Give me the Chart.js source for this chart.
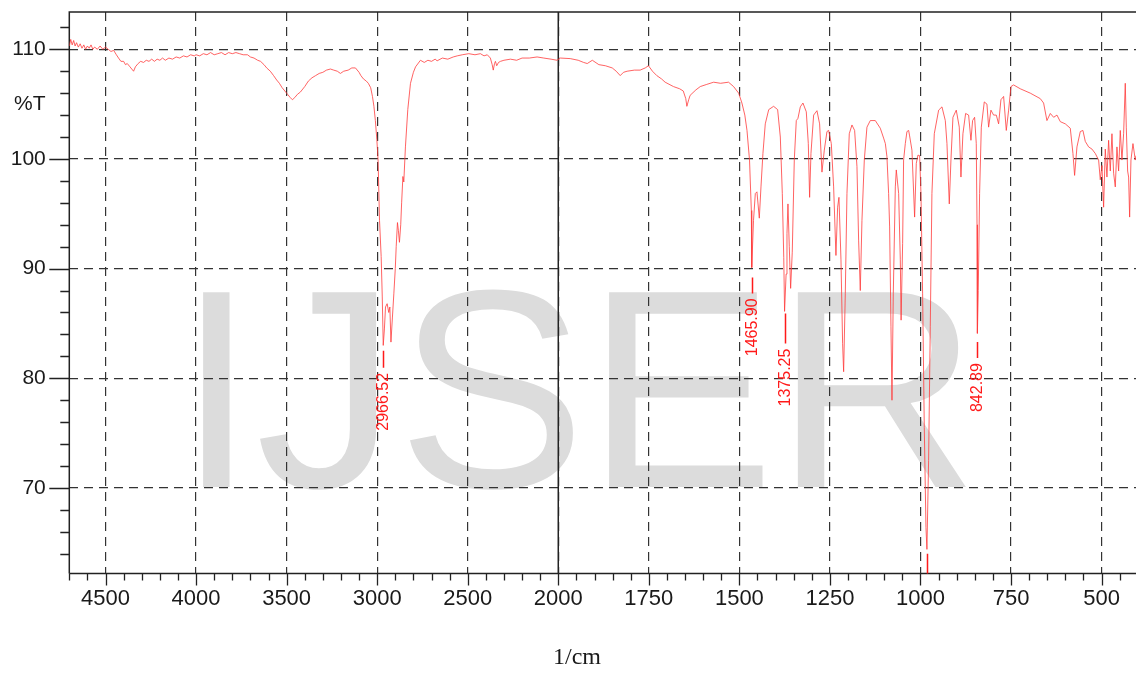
<!DOCTYPE html>
<html lang="en">
<head>
<meta charset="utf-8">
<title>IR spectrum</title>
<script src="https://cdn.jsdelivr.net/npm/chart.js@4.4.1/dist/chart.umd.min.js"></script>
<style>
  html, body { margin: 0; padding: 0; background: #fff; }
  #wrap { width: 1136px; height: 675px; position: relative; }
</style>
</head>
<body>
<div id="wrap"><canvas id="irChart"></canvas></div>
<script>
// spectrum: wavenumber (1/cm) and transmittance (%T)
var wavenumbers = [
  4700, 4692, 4684, 4676, 4668, 4660, 4650, 4640, 4630, 4620,
  4610, 4600, 4590, 4580, 4570, 4560, 4545, 4530, 4515, 4500,
  4485, 4470, 4455, 4440, 4428, 4415, 4400, 4390, 4380, 4365,
  4355, 4345, 4335, 4320, 4306, 4290, 4275, 4260, 4245, 4230,
  4215, 4200, 4185, 4170, 4150, 4130, 4110, 4090, 4070, 4050,
  4030, 4010, 4000, 3980, 3960, 3940, 3920, 3900, 3880, 3860,
  3840, 3820, 3800, 3780, 3760, 3740, 3716, 3700, 3680, 3660,
  3644, 3625, 3610, 3590, 3572, 3555, 3540, 3525, 3510, 3495,
  3480, 3468, 3455, 3440, 3424, 3400, 3380, 3360, 3340, 3320,
  3300, 3280, 3258, 3240, 3220, 3203, 3185, 3160, 3140, 3120,
  3100, 3090, 3076, 3060, 3049, 3036, 3026, 3018, 3010, 3002,
  2995, 2987, 2978, 2972, 2966.5, 2960, 2954, 2945, 2936, 2930,
  2924, 2916, 2908, 2900, 2895, 2888, 2883, 2877, 2870, 2865,
  2858, 2853, 2844, 2831, 2816, 2800, 2788, 2761, 2740, 2720,
  2700, 2680, 2669, 2640, 2610, 2580, 2558, 2530, 2494, 2460,
  2430, 2410, 2392, 2375, 2365, 2359, 2352, 2347, 2340, 2330,
  2319, 2300, 2264, 2230, 2200, 2160, 2117, 2080, 2040, 2007,
  1994, 1967, 1945, 1930, 1920, 1906, 1888, 1870, 1851, 1840,
  1829, 1820, 1810, 1790, 1774, 1760, 1751, 1740, 1728, 1715,
  1705, 1682, 1665, 1655, 1648, 1645, 1640, 1636, 1620, 1608,
  1590, 1571, 1552, 1530, 1516, 1502, 1493, 1485, 1479, 1472,
  1467, 1465.9, 1461, 1456, 1451.5, 1445, 1440.4, 1435, 1428.5, 1419,
  1405.5, 1394.4, 1387, 1381.5, 1377.5, 1375.25, 1371, 1368.6, 1365.9, 1362.2,
  1358.5, 1354, 1348.4, 1342.9, 1338.3, 1331.8, 1324.5, 1315.3, 1309.7, 1306.1,
  1302.4, 1295, 1285.8, 1278.5, 1272, 1265.6, 1258.2, 1253.6, 1246.2, 1239.8,
  1233.4, 1228.8, 1225.1, 1219.5, 1215, 1212.2, 1207.6, 1203, 1196.6, 1189.2,
  1181.8, 1175.4, 1170.8, 1166.2, 1161.6, 1155.1, 1147.8, 1138.6, 1124.8, 1111,
  1101.8, 1097, 1092.6, 1088, 1085.2, 1081.5, 1078.7, 1075.1, 1069.5, 1066.8,
  1060.3, 1055.7, 1053.5, 1049.3, 1046.6, 1041.9, 1037.4, 1032.7, 1030, 1023.6,
  1016.2, 1011.6, 1007, 1002.4, 998.7, 994.1, 989.5, 984.9, 982.2, 977.6,
  973, 968.4, 961.9, 949.9, 940.7, 931.5, 926.9, 920.5, 915.9, 910.4,
  901.2, 892.9, 888.3, 882.8, 875.4, 867.1, 860.7, 856.1, 850.6, 846,
  843.9, 842.89, 840.5, 836.8, 832.1, 823.9, 816.5, 811.9, 805.5, 798.1,
  790.7, 784.3, 777.9, 770.5, 763.1, 756.7, 750.2, 742.9, 724.5, 696.9,
  669.3, 660.1, 650.9, 641.6, 632.4, 623.2, 614, 600.2, 586.4, 579.1,
  574.5, 568, 558.8, 551.5, 545, 535.8, 526.6, 517.4, 508.2, 503.6,
  499, 494.4, 489.8, 485.2, 480.6, 476, 471.4, 466.8, 462.2, 457.6,
  453, 448.4, 443.8, 439.2, 434.6, 431.8, 428.1, 425.4, 422.6, 418.9,
  413.4, 407, 405
];
var transmittance = [
  110.3, 110.9, 110.4, 110.8, 110.3, 110.6, 110.2, 110.5, 110.1, 110.4,
  110.0, 110.3, 110.1, 110.4, 110.0, 110.2, 110.0, 110.3, 110.0, 110.2,
  110.0, 109.8, 109.9, 109.5, 109.2, 108.9, 108.9, 108.6, 108.7, 108.4,
  108.2, 108.0, 108.4, 108.7, 108.9, 108.8, 109.0, 108.9, 109.1, 108.9,
  109.1, 109.0, 109.2, 109.0, 109.2, 109.1, 109.3, 109.2, 109.4, 109.3,
  109.5, 109.4, 109.5, 109.4, 109.6, 109.5, 109.7, 109.5, 109.6, 109.7,
  109.5, 109.7, 109.6, 109.7, 109.6, 109.5, 109.5, 109.3, 109.2, 109.0,
  108.9, 108.6, 108.3, 108.0, 107.6, 107.2, 106.9, 106.5, 106.2, 105.9,
  105.6, 105.4, 105.6, 105.9, 106.1, 106.6, 107.1, 107.4, 107.6, 107.8,
  107.9, 108.1, 108.2, 108.1, 108.0, 107.8, 108.0, 108.1, 108.3, 108.3,
  107.9, 107.6, 107.3, 107.1, 106.9, 106.5, 105.7, 104.8, 103.5, 101.8,
  99.9, 94.4, 91.1, 87.5, 83.0, 84.5, 86.5, 86.8, 86.0, 86.5,
  83.3, 85.5, 87.7, 90.0, 92.0, 94.2, 93.5, 92.4, 94.0, 96.0,
  98.4, 97.9, 101.1, 104.5, 106.9, 107.9, 108.4, 109.0, 108.8, 109.0,
  108.9, 109.1, 108.95, 109.2, 109.1, 109.3, 109.4, 109.5, 109.6, 109.5,
  109.6, 109.4, 109.5, 109.2, 108.6, 108.1, 108.7, 108.9, 108.5, 108.8,
  108.9, 109.0, 109.1, 109.0, 109.2, 109.2, 109.3, 109.2, 109.1, 109.0,
  109.2, 109.15, 109.0, 108.8, 108.7, 109.0, 108.6, 108.5, 108.3, 108.0,
  107.6, 107.9, 108.0, 108.1, 108.1, 108.3, 108.5, 108.0, 107.6, 107.3,
  107.0, 106.6, 106.4, 106.2, 105.5, 104.8, 105.4, 105.8, 106.3, 106.6,
  106.8, 107.0, 106.9, 107.0, 106.6, 106.0, 105.1, 104.0, 102.6, 99.9,
  95.3, 90.1, 94.4, 96.85, 97.0, 94.6, 97.45, 100.5, 103.2, 104.5,
  104.8, 104.5, 102.0, 96.85, 91.0, 86.1, 89.5, 93.2, 95.9, 92.0,
  88.2, 91.5, 99.9, 103.5, 103.7, 104.75, 105.1, 104.3, 101.4, 96.5,
  100.5, 104.0, 104.4, 103.2, 98.8, 100.8, 102.5, 102.6, 101.4, 97.45,
  91.2, 95.6, 96.5, 90.8, 83.15, 80.6, 87.7, 96.85, 102.3, 103.1,
  102.6, 99.3, 92.6, 88.0, 94.4, 99.9, 102.9, 103.5, 103.5, 102.8,
  101.9, 101.4, 100.2, 96.85, 93.8, 84.7, 78.0, 87.7, 97.45, 99.0,
  96.85, 90.8, 85.3, 92.3, 99.9, 101.4, 102.5, 102.6, 102.1, 100.8,
  94.7, 99.6, 100.35, 100.3, 96.85, 87.7, 75.5, 66.4, 64.4, 72.5,
  84.7, 96.85, 102.3, 104.45, 104.75, 103.5, 101.4, 95.9, 99.9, 103.8,
  104.45, 102.9, 98.35, 102.3, 104.15, 104.0, 101.7, 103.5, 103.8, 101.4,
  94.0, 84.1, 88.0, 96.85, 102.9, 105.2, 105.0, 102.9, 104.45, 104.0,
  104.0, 103.2, 105.4, 105.7, 102.6, 104.45, 106.6, 106.75, 106.4, 106.0,
  105.5, 105.1, 103.5, 104.15, 103.8, 104.0, 103.4, 103.2, 102.8, 100.5,
  98.5, 101.1, 102.5, 102.6, 101.6, 101.1, 100.9, 100.5, 99.9, 98.1,
  99.4, 95.6, 100.9, 98.35, 101.7, 98.9, 102.3, 98.7, 97.45, 101.1,
  98.9, 102.6, 99.9, 102.3, 106.9, 102.9, 98.9, 98.35, 94.7, 99.9,
  101.4, 99.9, 100.3
];

var xTickValues = [4500, 4000, 3500, 3000, 2500, 2000, 1750, 1500, 1250, 1000, 750, 500];
var yTickValues = [70, 80, 90, 100, 110];

// peak annotations: label text, wavenumber, %T where the red leader starts
var peakLabels = ['2966.52', '1465.90', '1375.25', '', '842.89'];
var peakWn = [2966.52, 1465.90, 1375.25, 982.6, 842.89];
var peakT = [82.5, 89.2, 85.9, 64.0, 83.3];

// the axis is compressed 2:1 above 2000 1/cm
function toAxis(w) { return w > 2000 ? 2000 + (w - 2000) / 2 : w; }
function fromAxis(t) { return t > 2000 ? Math.round(2000 + (t - 2000) * 2) : t; }

var FONT = '"Liberation Sans", Arial, Helvetica, sans-serif';

var points = wavenumbers.map(function (w, i) {
  return { x: toAxis(w), y: transmittance[i] };
});

var decorations = {
  id: 'decorations',
  beforeDraw: function (chart) {
    var ctx = chart.ctx;
    ctx.save();
    ctx.fillStyle = '#dcdcdc';
    ctx.font = '283px ' + FONT;
    ctx.textBaseline = 'alphabetic';
    ctx.fillText('IJSER', 177, 487);
    ctx.restore();
  },
  beforeDatasetsDraw: function (chart) {
    var ctx = chart.ctx, a = chart.chartArea;
    var x2000 = chart.scales.x.getPixelForValue(2000);
    ctx.save();
    ctx.strokeStyle = '#222';
    ctx.lineWidth = 1.5;
    ctx.beginPath();
    ctx.moveTo(x2000, a.top); ctx.lineTo(x2000, a.bottom);
    ctx.moveTo(a.left, a.bottom); ctx.lineTo(a.left, a.top); ctx.lineTo(a.right, a.top);
    ctx.moveTo(a.left, a.bottom); ctx.lineTo(a.right, a.bottom);
    ctx.stroke();
    ctx.restore();
  },
  afterDatasetsDraw: function (chart) {
    var ctx = chart.ctx, a = chart.chartArea;
    var xs = chart.scales.x, ys = chart.scales.y;
    var leaderLen = [17, 16, 30, 30, 16];
    ctx.save();
    ctx.beginPath();
    ctx.rect(a.left, a.top, a.right - a.left, a.bottom - a.top);
    ctx.clip();
    ctx.strokeStyle = '#ff1a1a';
    ctx.fillStyle = '#ff1a1a';
    ctx.lineWidth = 1.5;
    ctx.font = '16px ' + FONT;
    for (var i = 0; i < peakWn.length; i++) {
      var px = Math.round(xs.getPixelForValue(toAxis(peakWn[i]))) + 0.5;
      var py = ys.getPixelForValue(peakT[i]);
      ctx.beginPath();
      ctx.moveTo(px, py);
      ctx.lineTo(px, py + leaderLen[i]);
      ctx.stroke();
      if (peakLabels[i]) {
        ctx.save();
        ctx.translate(px, py + leaderLen[i] + 5);
        ctx.rotate(-Math.PI / 2);
        ctx.textAlign = 'right';
        ctx.textBaseline = 'middle';
        ctx.fillText(peakLabels[i], 0, 0);
        ctx.restore();
      }
    }
    ctx.restore();
  },
  afterDraw: function (chart) {
    var ctx = chart.ctx, a = chart.chartArea;
    var xs = chart.scales.x, ys = chart.scales.y;
    ctx.save();
    ctx.strokeStyle = '#222';
    ctx.lineWidth = 1.3;
    ctx.beginPath();
    // x ticks: every 50 axis units, long ones on the labelled values
    for (var t = 3350; t >= 450; t -= 50) {
      var px = Math.round(xs.getPixelForValue(t)) + 0.5;
      var len = (t % 250 === 0) ? 12 : 7;
      ctx.moveTo(px, a.bottom);
      ctx.lineTo(px, a.bottom + len);
    }
    // y ticks every 2 %T
    for (var v = 64; v <= 112; v += 2) {
      var py = Math.round(ys.getPixelForValue(v)) + 0.5;
      var l = (v % 10 === 0) ? 20 : 9;
      ctx.moveTo(a.left, py);
      ctx.lineTo(a.left - l, py);
    }
    ctx.stroke();

    ctx.fillStyle = '#1a1a1a';
    ctx.font = '21px ' + FONT;
    ctx.textAlign = 'right';
    ctx.textBaseline = 'middle';
    ctx.fillText('%T', 45.5, ys.getPixelForValue(105));

    ctx.font = '24px "Liberation Serif", "Times New Roman", serif';
    ctx.textAlign = 'center';
    ctx.textBaseline = 'alphabetic';
    ctx.fillText('1/cm', 577, 664);
    ctx.restore();
  }
};

new Chart(document.getElementById('irChart'), {
  type: 'line',
  data: {
    datasets: [{
      data: points,
      borderColor: 'rgba(255, 60, 60, 0.8)',
      borderWidth: 1,
      pointRadius: 0,
      tension: 0
    }]
  },
  options: {
    responsive: true,
    maintainAspectRatio: false,
    animation: false,
    layout: { padding: { top: 12, right: 0, bottom: 0, left: 0 } },
    plugins: {
      legend: { display: false },
      tooltip: { enabled: false }
    },
    scales: {
      x: {
        type: 'linear',
        reverse: true,
        min: 405,
        max: 3350,
        afterFit: function (s) {
          s.height = 101.5;
          s.paddingLeft = 0;
          s.paddingRight = 0;
        },
        afterBuildTicks: function (s) {
          s.ticks = xTickValues.map(function (w) { return { value: toAxis(w) }; });
        },
        grid: { color: '#333', lineWidth: 1.2, drawTicks: false },
        border: { display: false, dash: [9, 6] },
        ticks: {
          padding: 12,
          color: '#1a1a1a',
          maxRotation: 0,
          autoSkip: false,
          font: { family: FONT, size: 22 },
          callback: function (v) { return fromAxis(v); }
        }
      },
      y: {
        min: 62.2,
        max: 113.4,
        afterFit: function (s) {
          s.width = 69.3;
          s.paddingTop = 0;
          s.paddingBottom = 0;
        },
        afterBuildTicks: function (s) {
          s.ticks = yTickValues.map(function (v) { return { value: v }; });
        },
        grid: { color: '#333', lineWidth: 1.2, drawTicks: false },
        border: { display: false, dash: [9, 6] },
        ticks: {
          padding: 23.5,
          color: '#1a1a1a',
          font: { family: FONT, size: 21 },
          callback: function (v) { return v; }
        }
      }
    }
  },
  plugins: [decorations]
});
</script>
</body>
</html>
